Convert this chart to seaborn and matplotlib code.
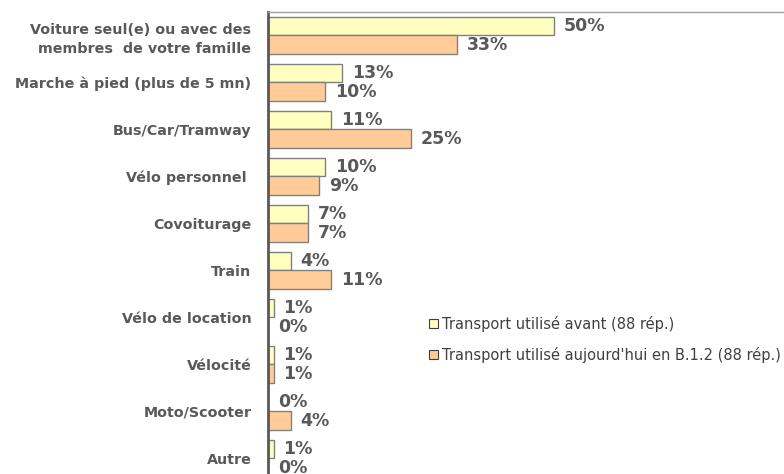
import matplotlib
matplotlib.use("Agg")
import matplotlib.pyplot as plt
import seaborn as sns
import pandas as pd

categories = [
    "Voiture seul(e) ou avec des\nmembres  de votre famille",
    "Marche à pied (plus de 5 mn)",
    "Bus/Car/Tramway",
    "Vélo personnel ",
    "Covoiturage",
    "Train",
    "Vélo de location",
    "Vélocité",
    "Moto/Scooter",
    "Autre",
]
series_names = [
    "Transport utilisé avant (88 rép.)",
    "Transport utilisé aujourd'hui en B.1.2 (88 rép.)",
]
avant = [50, 13, 11, 10, 7, 4, 1, 1, 0, 1]
aujourdhui = [33, 10, 25, 9, 7, 11, 0, 1, 4, 0]
colors = ["#FFFFC0", "#FFCC99"]

df = pd.DataFrame({
    "cat": categories * 2,
    "val": avant + aujourdhui,
    "serie": [series_names[0]] * len(categories) + [series_names[1]] * len(categories),
})

sns.set_theme(style="white")
plt.rcParams["font.family"] = ["DejaVu Sans"]

fig = plt.figure(figsize=(7.84, 4.74), dpi=100)
ax = fig.add_axes([268 / 784, 0, 1 - 268 / 784, (474 - 12) / 474])

sns.barplot(data=df, y="cat", x="val", hue="serie", order=categories,
            hue_order=series_names, palette=colors, orient="h",
            width=0.8, edgecolor="#808080", linewidth=1.0, ax=ax,
            legend=False, saturation=1)

ax.set_xlim(0, 90.2)
ax.set_ylim(9.33, -0.5)
ax.set_xlabel("")
ax.set_ylabel("")
ax.set_xticks([])

for cont, vals in zip(ax.containers, [avant, aujourdhui]):
    ax.bar_label(cont, labels=[f"{v}%" for v in vals], padding=7,
                 fontsize=12.5, fontweight="bold", color="#595959")

ax.tick_params(axis="y", length=0, pad=12)
for lab in ax.get_yticklabels():
    lab.set_fontweight("bold")
    lab.set_fontsize(10.3)
    lab.set_color("#595959")
    lab.set_horizontalalignment("right")
    lab.set_linespacing(1.45)

for s in ["right", "bottom"]:
    ax.spines[s].set_visible(False)
ax.spines["left"].set_color("#595959")
ax.spines["left"].set_linewidth(2)
ax.spines["top"].set_color("#A0A0A0")
ax.spines["top"].set_linewidth(1)

handles = [plt.Rectangle((0, 0), 1, 1, facecolor=c, edgecolor="#404040", linewidth=0.8)
           for c in colors]
fig.legend(handles, series_names, loc="upper left",
           bbox_to_anchor=(429 / 784, 1 - 316 / 474), frameon=False,
           handlelength=0.6, handleheight=0.6, handletextpad=0.3,
           labelspacing=1.0, fontsize=10.5, labelcolor="#404040",
           borderaxespad=0, borderpad=0)

fig.savefig("out.png", dpi=100)
